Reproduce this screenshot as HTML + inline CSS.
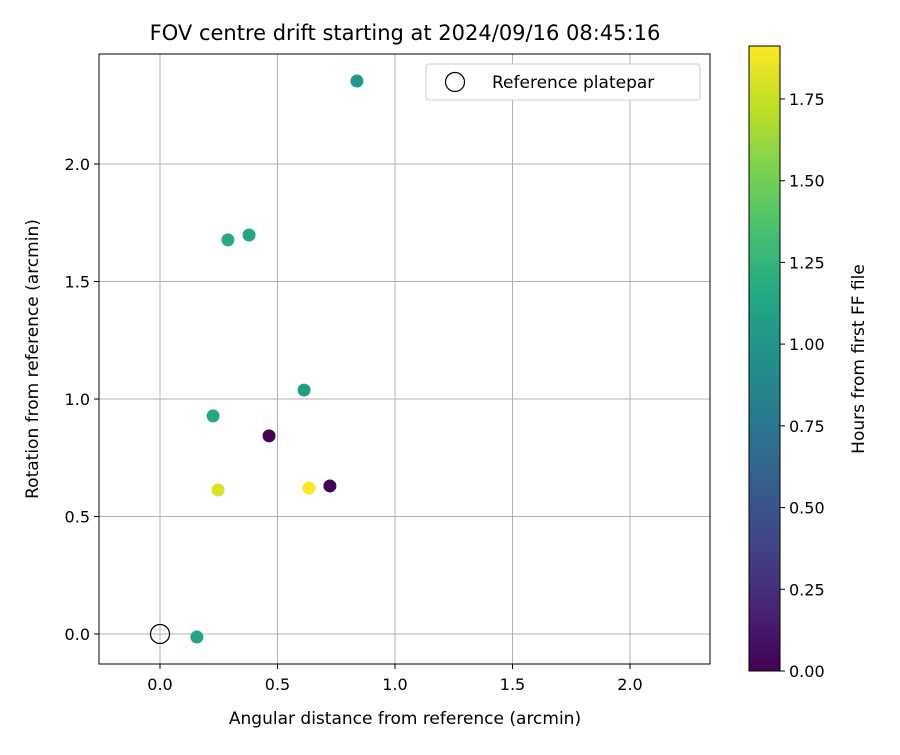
<!DOCTYPE html>
<html><head><meta charset="utf-8"><style>
body{margin:0;background:#fff;font-family:"Liberation Sans","DejaVu Sans",sans-serif;}
svg text{font-family:"DejaVu Sans","Liberation Sans",sans-serif;}
</style></head><body>
<svg id="chart" width="900" height="750" xmlns="http://www.w3.org/2000/svg">
<defs>
<linearGradient id="vir" x1="0" y1="1" x2="0" y2="0">
<stop offset="0" stop-color="#440154"/><stop offset="0.1" stop-color="#482475"/><stop offset="0.2" stop-color="#414487"/><stop offset="0.3" stop-color="#355f8d"/><stop offset="0.4" stop-color="#2a788e"/><stop offset="0.5" stop-color="#21918c"/><stop offset="0.6" stop-color="#22a884"/><stop offset="0.7" stop-color="#44bf70"/><stop offset="0.8" stop-color="#7ad151"/><stop offset="0.9" stop-color="#bddf26"/><stop offset="1" stop-color="#fde725"/>
</linearGradient>
</defs>
<g id="grid"></g>
<g id="marks"></g>
<rect x="99" y="54" width="611" height="610" fill="none" stroke="#000" stroke-width="1"/>
<g id="ticks"></g>
<text x="405" y="40" font-size="21" text-anchor="middle">FOV centre drift starting at 2024/09/16 08:45:16</text>
<text x="405" y="724" font-size="17" text-anchor="middle">Angular distance from reference (arcmin)</text>
<text x="38" y="359" font-size="17" text-anchor="middle" transform="rotate(-90 38 359)">Rotation from reference (arcmin)</text>
<g>
<rect x="426" y="64" width="274" height="36" rx="3" fill="#fff" stroke="#ccc"/>
<circle cx="455" cy="82" r="9.5" fill="none" stroke="#000" stroke-width="1.2"/>
<text x="492" y="88" font-size="17">Reference platepar</text>
</g>
<rect x="749" y="46" width="31" height="625" fill="url(#vir)" stroke="#000" stroke-width="1"/>
<g id="cbticks"></g>
<text x="864" y="359" font-size="17" text-anchor="middle" transform="rotate(-90 864 359)">Hours from first FF file</text>
</svg>
<script>
const xs=[0.838,0.289,0.379,0.613,0.226,0.464,0.247,0.634,0.723,0.157];
const ys=[2.353,1.677,1.698,1.038,0.928,0.843,0.613,0.621,0.630,-0.013];
const hours=[1.02,1.17,1.12,1.05,1.15,0.02,1.80,1.91,0.0,1.12];
const xTicks=[0,0.5,1,1.5,2];
const yTicks=[0,0.5,1,1.5,2];
const cTicks=[0,0.25,0.5,0.75,1,1.25,1.5,1.75];
const hMax=1.912;
const ns="http://www.w3.org/2000/svg";
const X=v=>160+v*235, Y=v=>634-v*235, C=v=>671-v*(625/hMax);
const vir=["#440154","#482475","#414487","#355f8d","#2a788e","#21918c","#22a884","#44bf70","#7ad151","#bddf26","#fde725"];
function hx(c){return [1,3,5].map(i=>parseInt(c.substr(i,2),16));}
function cmap(t){t=Math.max(0,Math.min(1,t));const f=t*10,i=Math.min(9,Math.floor(f)),r=f-i;const a=hx(vir[i]),b=hx(vir[i+1]);return "rgb("+a.map((v,k)=>Math.round(v+(b[k]-v)*r)).join(",")+")";}
function mk(tag,at,parent,txt){const e=document.createElementNS(ns,tag);for(const k in at)e.setAttribute(k,at[k]);if(txt!==undefined)e.textContent=txt;document.getElementById(parent).appendChild(e);return e;}
xTicks.forEach(v=>{const l=mk("line",{x1:X(v),x2:X(v),y1:54,y2:664,stroke:"#b0b0b0","stroke-width":1},"grid");

const t=mk("line",{x1:X(v),x2:X(v),y1:664,y2:669,stroke:"#000"},"ticks");

const s=mk("text",{x:X(v),y:690,"font-size":16,"text-anchor":"middle"},"ticks",v.toFixed(1));
});
yTicks.forEach(v=>{const l=mk("line",{x1:99,x2:710,y1:Y(v),y2:Y(v),stroke:"#b0b0b0","stroke-width":1},"grid");

const t=mk("line",{x1:94,x2:99,y1:Y(v),y2:Y(v),stroke:"#000"},"ticks");

const s=mk("text",{x:90,y:Y(v)+6,"font-size":16,"text-anchor":"end"},"ticks",v.toFixed(1));
});
const ref=mk("circle",{cx:X(0),cy:Y(0),r:9.5,fill:"none",stroke:"#000","stroke-width":1.2},"marks");

xs.forEach((v,i)=>{const c=mk("circle",{cx:X(v),cy:Y(ys[i]),r:6.5,fill:cmap(hours[i]/hMax)},"marks");
});
cTicks.forEach(v=>{const t=mk("line",{x1:780,x2:785,y1:C(v),y2:C(v),stroke:"#000"},"cbticks");

const s=mk("text",{x:789,y:C(v)+6,"font-size":16},"cbticks",v.toFixed(2));
});
</script>
</body></html>
